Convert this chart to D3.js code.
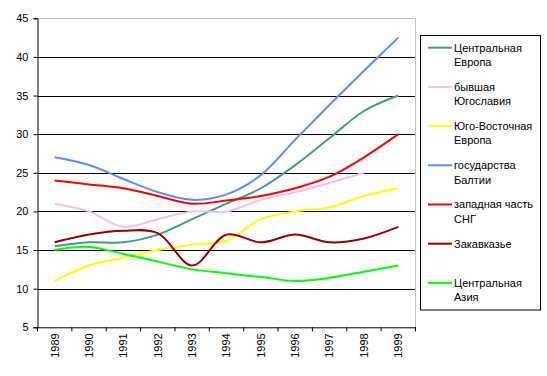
<!DOCTYPE html>
<html>
<head>
<meta charset="utf-8">
<script src="https://cdn.jsdelivr.net/npm/d3@7"></script>
<style>
  body { margin: 0; background: #fff; }
  svg text { font-family: "Liberation Sans", Arial, sans-serif; font-size: 11px; fill: #000; }
</style>
</head>
<body>
<div id="chart"></div>
<script>
// Data
const years = ["1989", "1990", "1991", "1992", "1993", "1994", "1995", "1996", "1997", "1998", "1999"];
const yTicks = [5, 10, 15, 20, 25, 30, 35, 40, 45];

const centralEurope = [15.5, 16, 16, 17, 19, 21, 23, 26, 29.5, 33, 35];
const exYugoslavia = [21, 20, 18, 19, 20, 20, 21.5, 22.5, 23.7, 25, null];
const southEastEurope = [11, 13, 14, 15, 15.7, 16.2, 19, 20, 20.5, 22, 23];
const baltics = [27, 26, 24.2, 22.5, 21.5, 22.2, 24.7, 29.3, 33.8, 38.2, 42.5];
const westernCIS = [24, 23.5, 23, 22, 21, 21.4, 22, 23, 24.5, 27, 30];
const caucasus = [16, 17, 17.5, 17.2, 13, 17, 16, 17, 16, 16.5, 18];
const centralAsia = [15, 15.4, 14.5, 13.5, 12.5, 12, 11.5, 11, 11.4, 12.2, 13];

const series = [
    { name: ["Центральная", "Европа"], values: centralEurope, color: "#3f9f86" },
    { name: ["бывшая", "Югославия"], values: exYugoslavia, color: "#f5bff5" },
    { name: ["Юго-Восточная", "Европа"], values: southEastEurope, color: "#ffff00" },
    { name: ["государства", "Балтии"], values: baltics, color: "#5b8cff" },
    { name: ["западная часть", "СНГ"], values: westernCIS, color: "#ff0000" },
    { name: ["Закавказье"], values: caucasus, color: "#990000" },
    { name: ["Центральная", "Азия"], values: centralAsia, color: "#00ff00" }
];

const W = 547, H = 376;
const plot = { left: 37.5, right: 415.5, top: 18.3, bottom: 327.3 };

const svg = d3.select("#chart").append("svg")
    .attr("width", W)
    .attr("height", H);

const x = d3.scaleBand()
    .domain(years)
    .range([plot.left, plot.right])
    .padding(0);

const y = d3.scaleLinear()
    .domain([5, 45])
    .range([plot.bottom, plot.top]);

// Gridlines (top one is the grey plot border)
svg.append("g")
    .selectAll("line")
    .data(yTicks.filter(d => d > 5))
    .enter()
    .append("line")
    .attr("x1", plot.left)
    .attr("x2", plot.right)
    .attr("y1", d => Math.round(y(d)) + 0.5)
    .attr("y2", d => Math.round(y(d)) + 0.5)
    .attr("stroke", d => d === 45 ? "#c0c0c0" : "#000")
    .attr("stroke-width", 1);

// right grey border of plot area
svg.append("line")
    .attr("x1", plot.right).attr("x2", plot.right)
    .attr("y1", Math.round(y(45)) + 0.5).attr("y2", plot.bottom)
    .attr("stroke", "#c0c0c0");

// Y axis
svg.append("g")
    .attr("transform", `translate(${plot.left},0)`)
    .call(d3.axisLeft(y).tickValues(yTicks).tickSize(4).tickPadding(5))
    .call(g => g.select(".domain").attr("stroke", "#000"))
    .call(g => g.selectAll(".tick line").attr("stroke", "#000"))
    .call(g => g.selectAll("text").style("font-size", "11px").attr("fill", "#000"));

// X axis: labels at category centres, ticks at category boundaries
const xAxis = svg.append("g")
    .attr("transform", `translate(0,${plot.bottom})`)
    .call(d3.axisBottom(x).tickSize(0).tickSizeOuter(0))
    .call(g => g.select(".domain").attr("stroke", "#000"));

xAxis.selectAll(".tick text")
    .attr("transform", "rotate(-90)")
    .attr("x", -6)
    .attr("y", 0)
    .attr("dy", "0.35em")
    .attr("text-anchor", "end")
    .style("font-size", "11px")
    .attr("fill", "#000");

xAxis.selectAll(".boundary")
    .data(years.map(d => x(d)).concat([x.range()[1]]))
    .enter()
    .append("line")
    .attr("class", "boundary")
    .attr("x1", d => d).attr("x2", d => d)
    .attr("y1", 0).attr("y2", 4)
    .attr("stroke", "#000");

// Series lines (smoothed, like the original)
const line = d3.line()
    .defined(d => d.v != null)
    .x(d => x(d.year) + x.bandwidth() / 2)
    .y(d => y(d.v))
    .curve(d3.curveCatmullRom.alpha(0.5));

svg.append("g")
    .selectAll("path")
    .data(series)
    .enter()
    .append("path")
    .attr("d", s => line(years.map((yr, i) => ({ year: yr, v: s.values[i] }))))
    .attr("fill", "none")
    .attr("stroke", s => s.color)
    .attr("stroke-width", 2)
    .attr("stroke-linejoin", "round");

// Legend
const legend = svg.append("g");
legend.append("rect")
    .attr("x", 420.5).attr("y", 35.5)
    .attr("width", 120).attr("height", 274.5)
    .attr("fill", "#fff")
    .attr("stroke", "#000");

const items = legend.selectAll(".item")
    .data(series)
    .enter()
    .append("g")
    .attr("class", "item")
    .attr("transform", (d, i) => `translate(0,${47.7 + i * 39.2})`);

items.append("line")
    .attr("x1", 428).attr("x2", 452)
    .attr("y1", 0).attr("y2", 0)
    .attr("stroke", d => d.color)
    .attr("stroke-width", 2);

items.each(function (d) {
    const g = d3.select(this);
    d.name.forEach((t, k) => {
        g.append("text")
            .attr("x", 454)
            .attr("y", k * 14.4)
            .attr("dy", "0.35em")
            .text(t);
    });
});
</script>
</body>
</html>
